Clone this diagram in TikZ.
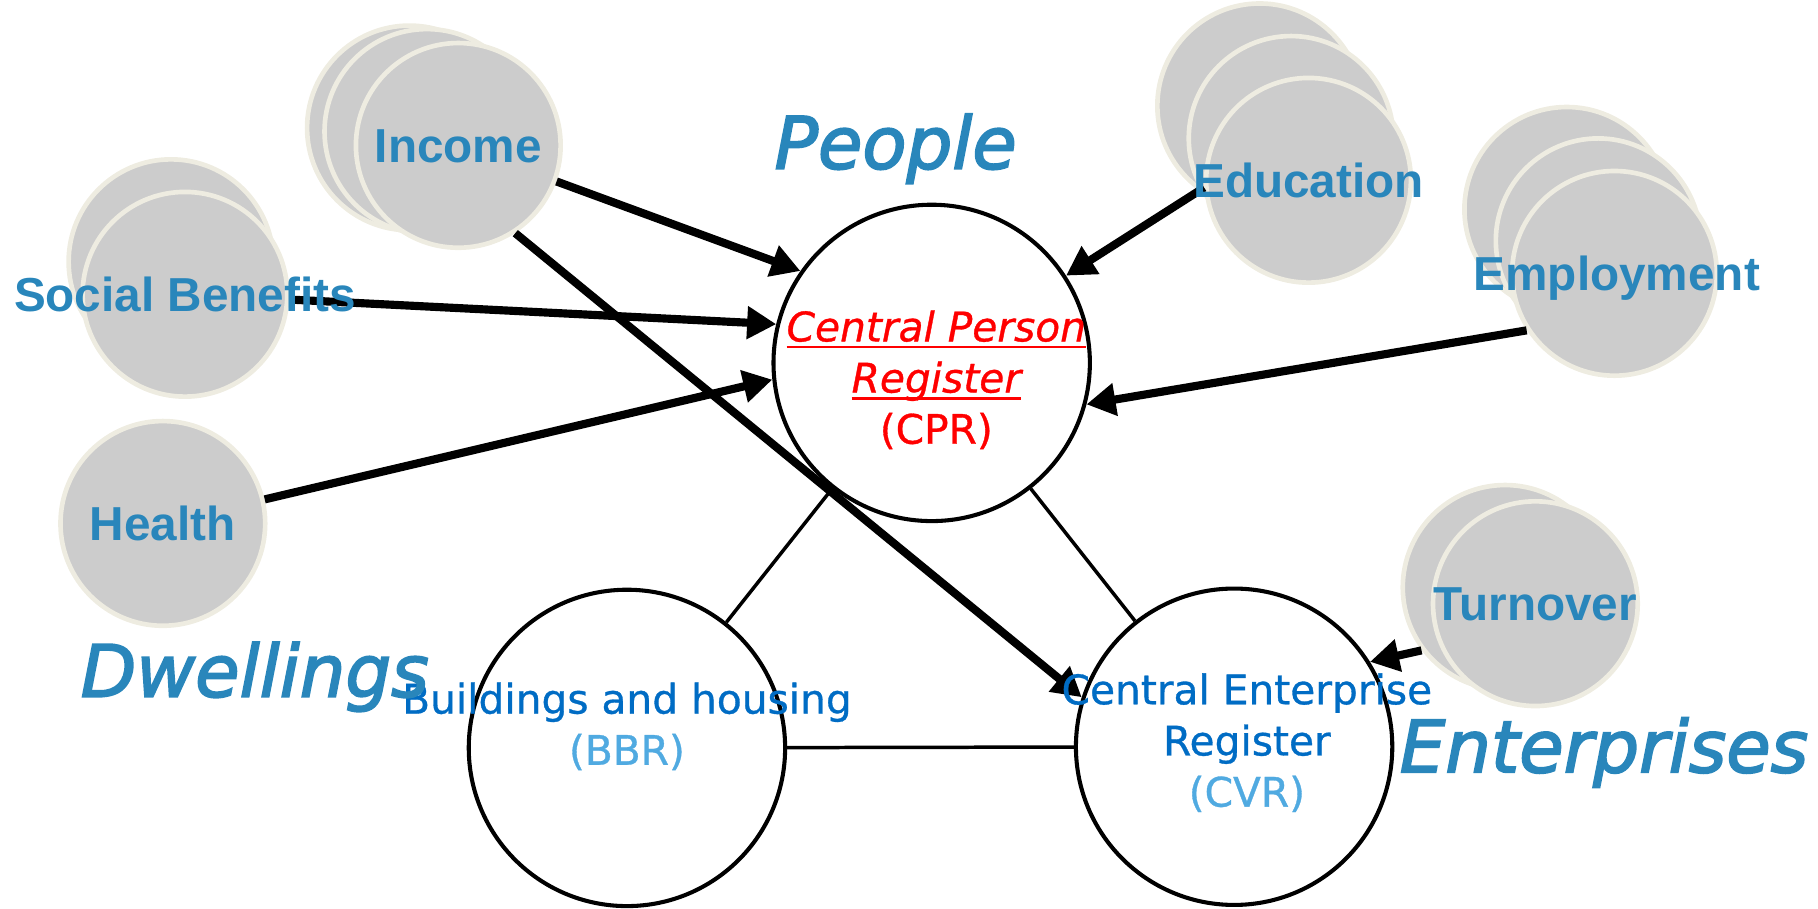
\documentclass[tikz,border=0pt]{standalone}
\usepackage{fontspec}
\setmainfont{DejaVu Sans}[FakeBold=0.8]
\newfontfamily\arialfont{Liberation Sans}
\newfontfamily\headfont{DejaVu Sans}[FakeBold=2.5]
\usetikzlibrary{arrows.meta}
\definecolor{headblue}{RGB}{41,134,187}
\definecolor{regblue}{RGB}{0,108,196}
\definecolor{codeblue}{RGB}{80,170,225}
\definecolor{discfill}{RGB}{204,204,204}
\definecolor{discline}{RGB}{238,236,225}
\newsavebox\ulbox
\newcommand{\underred}[1]{\sbox\ulbox{#1}\rlap{\rule[-6pt]{\wd\ulbox}{2pt}}\usebox\ulbox}

\begin{document}
\begin{tikzpicture}[
    x=1pt, y=-1pt,
    disc/.style={circle, fill=discfill, draw=discline, line width=4pt, minimum size=176pt, inner sep=0pt},
    disclabel/.style={font=\arialfont\bfseries\fontsize{41}{41}\selectfont, text=headblue, inner sep=0pt, text height=29pt, text depth=0pt},
    register/.style={circle, draw, fill=white, line width=3.5pt, minimum size=272pt, inner sep=0pt},
    reglabel/.style={font=\fontsize{35}{44}\selectfont, align=center, inner sep=0pt},
    heading/.style={font=\headfont\itshape\fontsize{62}{62}\selectfont, text=headblue, inner sep=0pt, anchor=base},
    feed/.style={line width=7pt, -{Triangle[length=25pt,width=27pt]}},
    link/.style={line width=3pt}
  ]
  \useasboundingbox (0,0) rectangle (1563,781);

  % Registers
  \node[register] (cpr) at (801,312) {};
  \node[register] (bbr) at (539,643) {};
  \node[register] (cvr) at (1061,642) {};
  \draw[link] (cpr) -- (bbr);
  \draw[link] (cpr) -- (cvr);
  \draw[link] (bbr) -- (cvr);

  % Data sources (stacked discs)
  \node[disc] (incA) at (352,110) {};
  \node[disc] (incB) at (367,113) {};
  \node[disc] (inc) at (394,125) {};
  \node[disc] (socB) at (147,225) {};
  \node[disc] (soc) at (159,253) {};
  \node[disc] (hea) at (140,450) {};
  \node[disc] (eduA) at (1083,91) {};
  \node[disc] (eduB) at (1110,119) {};
  \node[disc] (edu) at (1125,155) {};
  \node[disc] (empA) at (1347,180) {};
  \node[disc] (empB) at (1374,207) {};
  \node[disc] (emp) at (1388,235) {};
  \node[disc] (turB) at (1294,505) {};
  \node[disc] (tur) at (1320,519) {};

  % Arrows
  \draw[feed] (inc) -- (cpr.145);
  \draw[feed] (inc.-57) -- (cvr.162);
  \draw[feed] (soc) -- (cpr.166);
  \draw[feed] (hea) -- (cpr.186);
  \draw[feed] (edu.184) -- (cpr.33);
  \draw[feed] (emp.213) -- (cpr.345);
  \draw[feed] (turB.217) -- (cvr.32);

  % Labels
  \node[disclabel] (incL) at (inc) {Income};
  \node[disclabel] (socL) at (soc) {Social Benefits};
  \node[disclabel] (heaL) at (hea) {Health};
  \node[disclabel] (eduL) at (edu) {Education};
  \node[disclabel] (empL) at (1390,235) {Employment};
  \node[disclabel] (turL) at (tur) {Turnover};

  \node[reglabel, text=red] (cprL) at (805,326.5)
    {\itshape\underred{Central Person}\\ \itshape\underred{Register}\\ (CPR)};
  \node[reglabel, text=regblue] (bbrL) at (539,624.5)
    {Buildings and housing\\ \textcolor{codeblue}{(BBR)}};
  \node[reglabel, text=regblue] (cvrL) at (1072,638.5)
    {Central Enterprise\\ Register\\ \textcolor{codeblue}{(CVR)}};

  \node[heading] (people) at (770,145) {People};
  \node[heading] (dwell) at (219,599) {Dwellings};
  \node[heading] (enter) at (1379,664) {Enterprises};
\end{tikzpicture}
\end{document}
